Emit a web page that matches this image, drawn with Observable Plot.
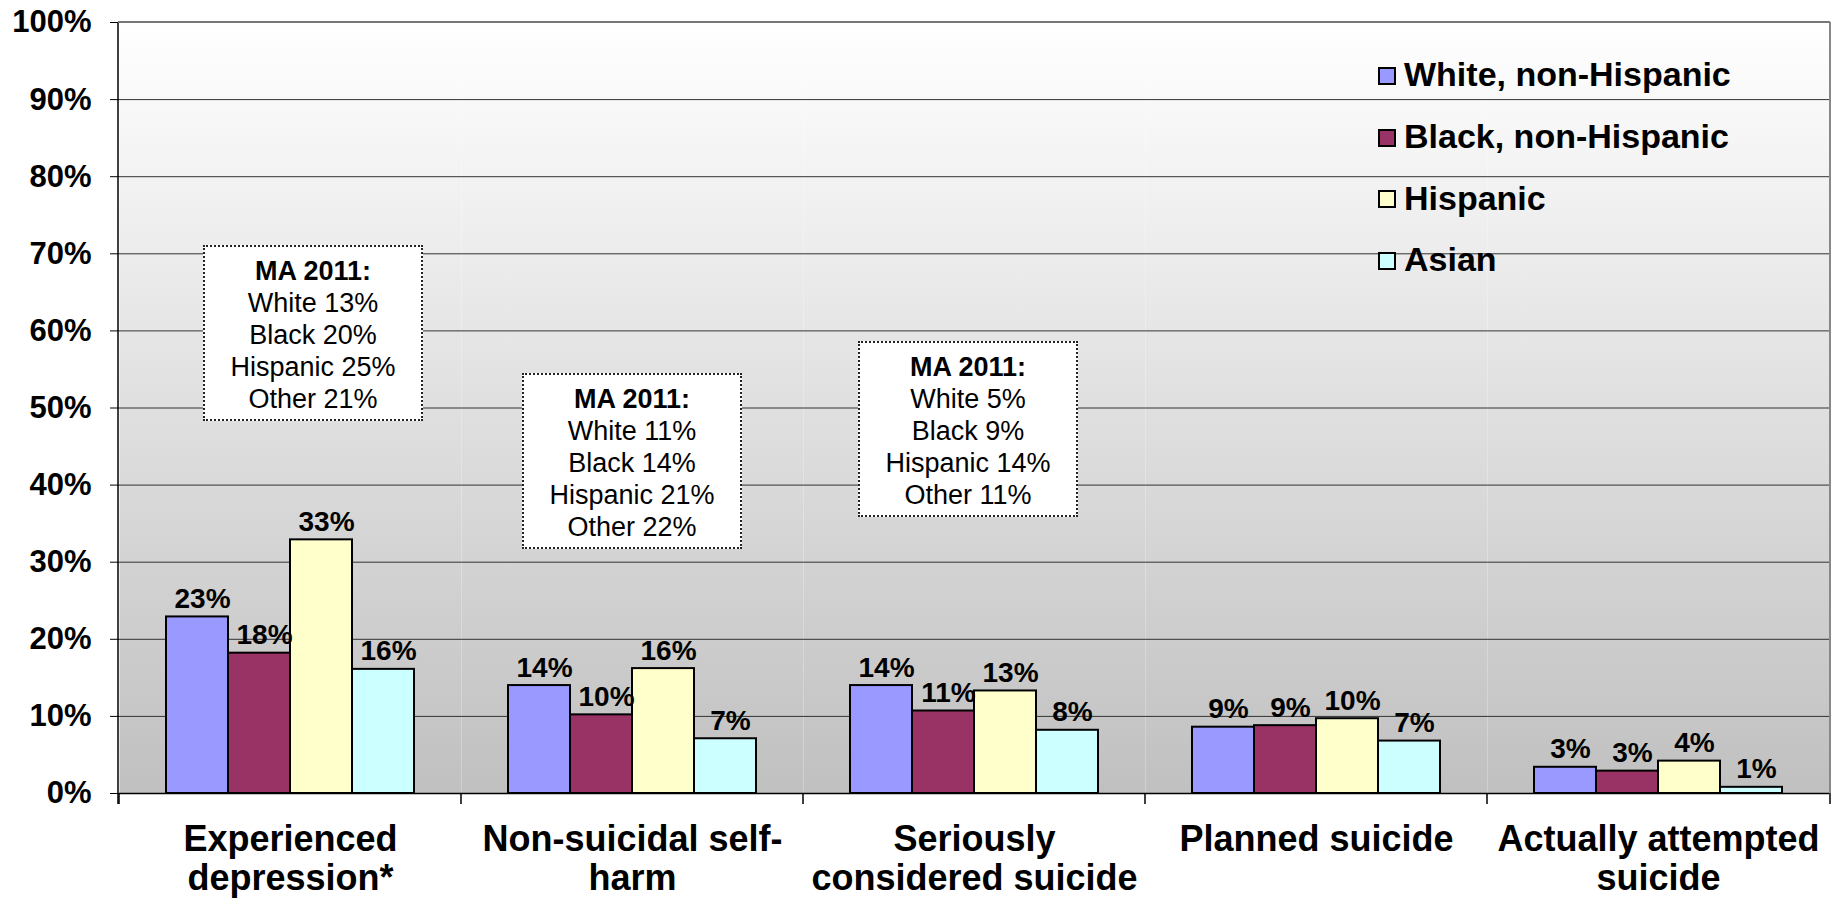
<!DOCTYPE html>
<html>
<head>
<meta charset="utf-8">
<script src="https://cdn.jsdelivr.net/npm/d3@7"></script>
<script src="https://cdn.jsdelivr.net/npm/@observablehq/plot@0.6"></script>
<style>
  html, body { margin: 0; padding: 0; background: #fff; }
  body { font-family: "Liberation Sans", Arial, sans-serif; }
  #wrap { position: relative; width: 1841px; height: 900px; overflow: hidden; }
  .note {
    position: absolute; box-sizing: border-box; width: 220px; height: 176px;
    background: #fff; border: 2px dotted #222; text-align: center;
    font-size: 27px; line-height: 32px; color: #000; padding-top: 8px;
  }
  .note b { font-weight: bold; }
  .legend { position: absolute; left: 1378px; top: 44px; }
  .legend .row { display: flex; align-items: center; height: 61.7px; }
  .legend .sw { width: 18px; height: 18px; box-sizing: border-box; border: 2px solid #000; margin-right: 8px; margin-top: 2px; }
  .legend .lab { font-size: 34px; font-weight: bold; color: #000; white-space: nowrap; }
</style>
</head>
<body>
<svg width="0" height="0" style="position:absolute">
  <defs>
    <linearGradient id="bg" x1="0" y1="0" x2="0" y2="1">
      <stop offset="0" stop-color="#ffffff"/>
      <stop offset="1" stop-color="#c0c0c0"/>
    </linearGradient>
  </defs>
</svg>
<div id="wrap"></div>
<script>
// ---- data ----
const categories = [
  "Experienced\ndepression*",
  "Non-suicidal self-\nharm",
  "Seriously\nconsidered suicide",
  "Planned suicide",
  "Actually attempted\nsuicide"
];
const races = ["White, non-Hispanic", "Black, non-Hispanic", "Hispanic", "Asian"];
const whiteValues = [22.9, 14.0, 14.0, 8.6, 3.4];
const blackValues = [18.2, 10.2, 10.7, 8.8, 2.9];
const hispanicValues = [32.9, 16.2, 13.3, 9.7, 4.2];
const asianValues = [16.1, 7.1, 8.2, 6.8, 0.8];
const yTicks = [0, 10, 20, 30, 40, 50, 60, 70, 80, 90, 100];
const raceColors = ["#9999FF", "#993366", "#FFFFCC", "#CCFFFF"];
const noteTexts = [
  ["MA 2011:", "White 13%", "Black 20%", "Hispanic 25%", "Other 21%"],
  ["MA 2011:", "White 11%", "Black 14%", "Hispanic 21%", "Other 22%"],
  ["MA 2011:", "White 5%", "Black 9%", "Hispanic 14%", "Other 11%"]
];

// ---- layout (not data) ----
const noteLayout = [
  {top: 71.1, shift: 23},
  {top: 54.5, shift: 0},
  {top: 58.6, shift: -6}
];

const series = [whiteValues, blackValues, hispanicValues, asianValues];
const rows = categories.flatMap((c, i) => races.map((r, j) => ({category: c, race: r, value: series[j][i]})));

const plot = Plot.plot({
  width: 1841,
  height: 900,
  marginLeft: 118,
  marginRight: 11,
  marginTop: 22,
  marginBottom: 107,
  style: {fontFamily: "'Liberation Sans', Arial, sans-serif", background: "transparent", color: "#000"},
  fx: {domain: categories, padding: 0, label: null},
  x: {domain: races, paddingInner: 0, paddingOuter: 0.757, axis: null},
  y: {domain: [0, 100]},
  color: {domain: races, range: raceColors},
  marks: [
    Plot.frame({fill: "url(#bg)", stroke: null}),
    Plot.gridY(yTicks, {stroke: "#333", strokeOpacity: 1, strokeWidth: 1}),
    Plot.axisY(yTicks, {
      tickSize: 9, tickPadding: 19, tickFormat: d => d + "%",
      fontSize: 31, fontWeight: "bold", label: null
    }),
    Plot.axisFx({
      anchor: "bottom", tickSize: 0, tickPadding: 30,
      fontSize: 36, fontWeight: "bold", lineHeight: 1.08, label: null
    }),
    Plot.barY(rows, {fx: "category", x: "race", y: "value", fill: "race", stroke: "#000", strokeWidth: 2}),
    Plot.text(rows, {
      fx: "category", x: "race", y: "value",
      text: d => Math.round(d.value) + "%",
      lineAnchor: "bottom", dx: 5, dy: -9,
      fontSize: 28, fontWeight: "bold", fill: "#000"
    }),
    Plot.ruleY([0], {stroke: "#000", strokeWidth: 1.5})
  ]
});

const wrap = document.getElementById("wrap");
wrap.appendChild(plot);

// decorations from the plot's own scales
const fx = plot.scale("fx");
const y = plot.scale("y");
const svg = d3.select(plot);
const x0 = fx.range[0], x1 = fx.range[1];
const yTop = y.apply(100), yBase = y.apply(0);
const deco = svg.append("g");
// y axis line
deco.append("line").attr("x1", x0).attr("x2", x0).attr("y1", yTop).attr("y2", yBase + 11)
  .attr("stroke", "#000").attr("stroke-width", 1.5);
// right border
deco.append("line").attr("x1", x1).attr("x2", x1).attr("y1", yTop).attr("y2", yBase)
  .attr("stroke", "#888").attr("stroke-width", 2);
// top border
deco.append("line").attr("x1", x0).attr("x2", x1).attr("y1", yTop).attr("y2", yTop)
  .attr("stroke", "#777").attr("stroke-width", 2);
// category boundary ticks
const edges = categories.map(c => fx.apply(c)).concat([x1]);
deco.selectAll(".edge").data(edges).join("line")
  .attr("x1", d => d).attr("x2", d => d).attr("y1", yBase).attr("y2", yBase + 11)
  .attr("stroke", "#000").attr("stroke-width", 1.5);

// annotation boxes
noteTexts.forEach((lines, i) => {
  const cx = fx.apply(categories[i]) + fx.bandwidth / 2 + noteLayout[i].shift;
  const div = document.createElement("div");
  div.className = "note";
  div.style.left = (cx - 110) + "px";
  div.style.top = y.apply(noteLayout[i].top) + "px";
  div.innerHTML = lines.map((t, k) => k === 0 ? `<b>${t}</b>` : t).join("<br>");
  wrap.appendChild(div);
});

// legend
const legend = document.createElement("div");
legend.className = "legend";
races.forEach((r, j) => {
  const row = document.createElement("div");
  row.className = "row";
  row.innerHTML = `<div class="sw" style="background:${raceColors[j]}"></div><div class="lab">${r}</div>`;
  legend.appendChild(row);
});
wrap.appendChild(legend);
</script>
</body>
</html>
